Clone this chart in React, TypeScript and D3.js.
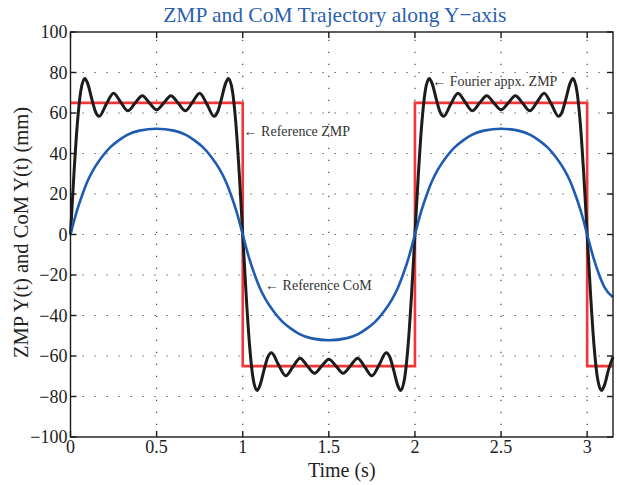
import { useEffect, useRef } from 'react';
import * as d3 from 'd3';

// Reference ZMP (square wave)
const refZmp: [number, number][] = [
  [0, 65], [1, 65], [1, -65], [2, -65], [2, 65], [3, 65], [3, -65], [3.15, -65],
];

// Fourier approximated ZMP (time s, value mm)
const fourierZmp: [number, number][] = [
  [0, 0], [0.02, 30], [0.04, 55], [0.06, 71], [0.083, 77], [0.1, 74.5], [0.125, 66.5], [0.145, 60.7],
  [0.167, 58.4], [0.208, 64.4], [0.25, 69.8], [0.292, 65.3], [0.333, 61.1], [0.375, 64.9], [0.417, 68.5],
  [0.458, 65], [0.5, 61.6], [0.542, 65], [0.583, 68.5], [0.625, 64.9], [0.667, 61.1], [0.708, 65.3],
  [0.75, 69.8], [0.792, 64.4], [0.833, 58.4], [0.855, 60.7], [0.875, 66.5], [0.9, 74.5], [0.917, 77],
  [0.94, 71], [0.96, 55], [0.98, 30],
  [1, 0], [1.02, -30], [1.04, -55], [1.06, -71], [1.083, -77], [1.1, -74.5], [1.125, -66.5], [1.145, -60.7],
  [1.167, -58.4], [1.208, -64.4], [1.25, -69.8], [1.292, -65.3], [1.333, -61.1], [1.375, -64.9], [1.417, -68.5],
  [1.458, -65], [1.5, -61.6], [1.542, -65], [1.583, -68.5], [1.625, -64.9], [1.667, -61.1], [1.708, -65.3],
  [1.75, -69.8], [1.792, -64.4], [1.833, -58.4], [1.855, -60.7], [1.875, -66.5], [1.9, -74.5], [1.917, -77],
  [1.94, -71], [1.96, -55], [1.98, -30],
  [2, 0], [2.02, 30], [2.04, 55], [2.06, 71], [2.083, 77], [2.1, 74.5], [2.125, 66.5], [2.145, 60.7],
  [2.167, 58.4], [2.208, 64.4], [2.25, 69.8], [2.292, 65.3], [2.333, 61.1], [2.375, 64.9], [2.417, 68.5],
  [2.458, 65], [2.5, 61.6], [2.542, 65], [2.583, 68.5], [2.625, 64.9], [2.667, 61.1], [2.708, 65.3],
  [2.75, 69.8], [2.792, 64.4], [2.833, 58.4], [2.855, 60.7], [2.875, 66.5], [2.9, 74.5], [2.917, 77],
  [2.94, 71], [2.96, 55], [2.98, 30],
  [3, 0], [3.02, -30], [3.04, -55], [3.06, -71], [3.083, -77], [3.1, -74.5], [3.125, -66.5], [3.15, -60.5],
];

// Reference CoM
const refCom: [number, number][] = [
  [0, 0], [0.035, 11], [0.07, 20], [0.1, 26.5], [0.133, 32], [0.18, 38], [0.23, 43], [0.28, 46.5],
  [0.33, 49.2], [0.4, 51.3], [0.5, 52.2], [0.6, 51.3], [0.67, 49.2], [0.72, 46.5], [0.77, 43], [0.82, 38],
  [0.867, 32], [0.9, 26.5], [0.93, 20], [0.965, 11],
  [1, 0], [1.035, -11], [1.07, -20], [1.1, -26.5], [1.133, -32], [1.18, -38], [1.23, -43], [1.28, -46.5],
  [1.33, -49.2], [1.4, -51.3], [1.5, -52.2], [1.6, -51.3], [1.67, -49.2], [1.72, -46.5], [1.77, -43], [1.82, -38],
  [1.867, -32], [1.9, -26.5], [1.93, -20], [1.965, -11],
  [2, 0], [2.035, 11], [2.07, 20], [2.1, 26.5], [2.133, 32], [2.18, 38], [2.23, 43], [2.28, 46.5],
  [2.33, 49.2], [2.4, 51.3], [2.5, 52.2], [2.6, 51.3], [2.67, 49.2], [2.72, 46.5], [2.77, 43], [2.82, 38],
  [2.867, 32], [2.9, 26.5], [2.93, 20], [2.965, 11],
  [3, 0], [3.035, -11], [3.07, -20], [3.1, -26], [3.15, -31],
];

const xTicks = [0, 0.5, 1, 1.5, 2, 2.5, 3];
const yTicks = [-100, -80, -60, -40, -20, 0, 20, 40, 60, 80, 100];

const notes: { label: string; t: number; v: number }[] = [
  { label: '\u2190 Reference ZMP', t: 1.005, v: 51 },
  { label: '\u2190 Fourier appx. ZMP', t: 2.1, v: 75.5 },
  { label: '\u2190 Reference CoM', t: 1.13, v: -25 },
];

export default function App() {
  const svgRef = useRef<SVGSVGElement>(null);

  useEffect(() => {
    if (!svgRef.current) return;
    const width = 617;
    const height = 485;
    const svg = d3.select(svgRef.current);
    svg.selectAll('*').remove();

    const margin = { top: 32, right: 4, bottom: 48, left: 70.5 };
    const x = d3.scaleLinear().domain([0, 3.15]).range([margin.left, width - margin.right]);
    const y = d3.scaleLinear().domain([-100, 100]).range([height - margin.bottom, margin.top]);
    const font = '"Liberation Serif", "DejaVu Serif", serif';
    const [x0, x1] = x.range();
    const [y0, y1] = y.range();

    svg.attr('width', width).attr('height', height).style('font-family', font);
    svg.append('rect').attr('width', width).attr('height', height).attr('fill', '#fff');

    // Dotted grid
    const grid = svg.append('g').attr('stroke', '#444').attr('stroke-width', 1.2)
      .attr('stroke-dasharray', '1.2,10.8');
    grid.selectAll('.gx').data(xTicks.slice(1)).enter().append('line')
      .attr('x1', d => x(d)).attr('x2', d => x(d)).attr('y1', y0).attr('y2', y1);
    grid.selectAll('.gy').data(yTicks.slice(1, -1)).enter().append('line')
      .attr('y1', d => y(d)).attr('y2', d => y(d)).attr('x1', x0).attr('x2', x1);

    const line = d3.line<[number, number]>().x(d => x(d[0])).y(d => y(d[1]));

    svg.append('path').attr('d', line.curve(d3.curveLinear)(refZmp))
      .attr('fill', 'none').attr('stroke', '#f23535').attr('stroke-width', 2.6);
    svg.append('path').attr('d', line.curve(d3.curveMonotoneX)(fourierZmp))
      .attr('fill', 'none').attr('stroke', '#1c1c1c').attr('stroke-width', 3);
    svg.append('path').attr('d', line.curve(d3.curveMonotoneX)(refCom))
      .attr('fill', 'none').attr('stroke', '#1f5bb0').attr('stroke-width', 2.6);

    // Box and inward ticks
    const tl = 6;
    const axes = svg.append('g').attr('stroke', '#1a1a1a').attr('stroke-width', 1.4);
    axes.append('rect').attr('x', x0).attr('y', y1).attr('width', x1 - x0).attr('height', y0 - y1)
      .attr('fill', 'none');
    xTicks.forEach(t => {
      axes.append('line').attr('x1', x(t)).attr('x2', x(t)).attr('y1', y0).attr('y2', y0 - tl);
      axes.append('line').attr('x1', x(t)).attr('x2', x(t)).attr('y1', y1).attr('y2', y1 + tl);
    });
    yTicks.forEach(v => {
      axes.append('line').attr('y1', y(v)).attr('y2', y(v)).attr('x1', x0).attr('x2', x0 + tl);
      axes.append('line').attr('y1', y(v)).attr('y2', y(v)).attr('x1', x1).attr('x2', x1 - tl);
    });

    const fmt = d3.format('');
    svg.append('g').selectAll('text').data(xTicks).enter().append('text')
      .attr('x', d => x(d)).attr('y', y0 + 16).attr('text-anchor', 'middle')
      .attr('font-size', 18).attr('fill', '#222').text(d => fmt(d));
    svg.append('g').selectAll('text').data(yTicks).enter().append('text')
      .attr('x', x0 - 3).attr('y', d => y(d) + 6).attr('text-anchor', 'end')
      .attr('font-size', 18).attr('fill', '#222').text(d => fmt(d));

    svg.append('text').attr('x', (x0 + x1) / 2).attr('y', 477).attr('text-anchor', 'middle')
      .attr('font-size', 20).attr('fill', '#222').text('Time (s)');
    svg.append('text').attr('transform', `translate(28, ${(y0 + y1) / 2 - 2}) rotate(-90)`)
      .attr('text-anchor', 'middle').attr('font-size', 20.5).attr('fill', '#222')
      .text('ZMP Y(t) and CoM Y(t) (mm)');
    svg.append('text').attr('x', (x0 + x1) / 2 - 7).attr('y', 22).attr('text-anchor', 'middle')
      .attr('font-size', 21.5).attr('fill', '#2b5fad').text('ZMP and CoM Trajectory along Y\u2212axis');

    svg.append('g').selectAll('text').data(notes).enter().append('text')
      .attr('x', d => x(d.t)).attr('y', d => y(d.v) + 4.5).attr('font-size', 14).attr('fill', '#333')
      .text(d => d.label);
  }, []);

  return <svg ref={svgRef} style={{ position: 'absolute', left: 0, top: 0 }} />;
}
